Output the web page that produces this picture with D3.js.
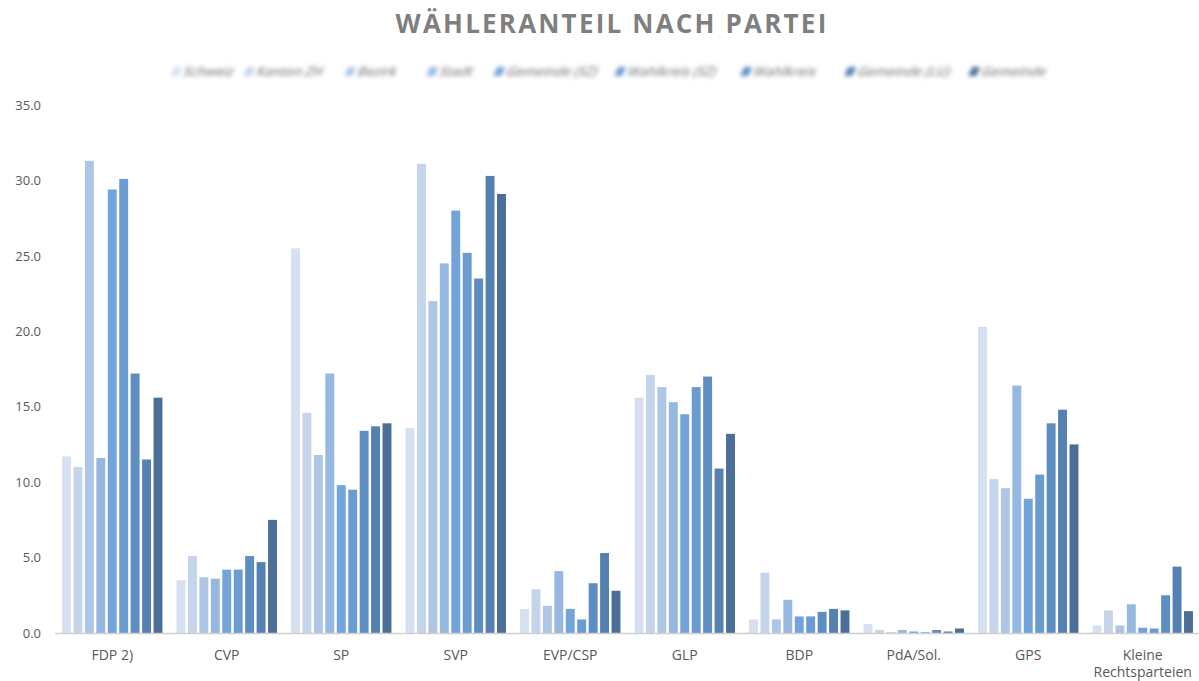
<!DOCTYPE html>
<html>
<head>
<meta charset="utf-8">
<script src="https://cdn.jsdelivr.net/npm/d3@7"></script>
<style>
  body { margin: 0; background: #fff; }
  svg { display: block; font-family: "Open Sans", sans-serif; }
</style>
</head>
<body>
<script>
const categories = ['FDP 2)', 'CVP', 'SP', 'SVP', 'EVP/CSP', 'GLP', 'BDP', 'PdA/Sol.', 'GPS', 'Kleine Rechtsparteien'];
const seriesNames = ['Schweiz', 'Kanton ZH', 'Bezirk', 'Stadt', 'Gemeinde (SZ)', 'Wahlkreis (SZ)', 'Wahlkreis', 'Gemeinde (LU)', 'Gemeinde'];
const seriesColors = ['#d6e0f0', '#c4d4eb', '#aec6e6', '#95b7e0', '#72a3da', '#6a9bd1', '#5e8dc2', '#5581b2', '#4b6f98'];

// one array per series, values in category order
const s1 = [11.7, 3.5, 25.5, 13.6, 1.6, 15.6, 0.9, 0.6, 20.3, 0.5];
const s2 = [11.0, 5.1, 14.6, 31.1, 2.9, 17.1, 4.0, 0.2, 10.2, 1.5];
const s3 = [31.3, 3.7, 11.8, 22.0, 1.8, 16.3, 0.9, 0.05, 9.6, 0.5];
const s4 = [11.6, 3.6, 17.2, 24.5, 4.1, 15.3, 2.2, 0.2, 16.4, 1.9];
const s5 = [29.4, 4.2, 9.8, 28.0, 1.6, 14.5, 1.1, 0.1, 8.9, 0.35];
const s6 = [30.1, 4.2, 9.5, 25.2, 0.9, 16.3, 1.1, 0.05, 10.5, 0.3];
const s7 = [17.2, 5.1, 13.4, 23.5, 3.3, 17.0, 1.4, 0.2, 13.9, 2.5];
const s8 = [11.5, 4.7, 13.7, 30.3, 5.3, 10.9, 1.6, 0.1, 14.8, 4.4];
const s9 = [15.6, 7.5, 13.9, 29.1, 2.8, 13.2, 1.5, 0.3, 12.5, 1.45];
const series = [s1, s2, s3, s4, s5, s6, s7, s8, s9];
const yTicks = [0, 5, 10, 15, 20, 25, 30, 35];

const w = 1199;
const h = 681;
const svg = d3.select('body').append('svg').attr('width', w).attr('height', h);

// blur for the legend, which is unreadable in the original
svg.append('defs').append('filter').attr('id', 'blur')
  .attr('x', '-10%').attr('y', '-80%').attr('width', '120%').attr('height', '260%')
  .append('feGaussianBlur').attr('stdDeviation', 2.1);

const x0 = d3.scaleBand().domain(categories).range([55, 1200]).paddingInner(0.123).paddingOuter(0.0615);
const x1 = d3.scaleBand().domain(d3.range(series.length)).range([0, x0.bandwidth()]).paddingInner(0.22);
const y = d3.scaleLinear().domain([0, 35]).range([633, 105]);

// title
svg.append('text')
  .attr('x', 612).attr('y', 33)
  .attr('text-anchor', 'middle')
  .attr('font-size', 26).attr('font-weight', 700)
  .attr('letter-spacing', 2.2)
  .attr('fill', '#7f7f7f')
  .text('WÄHLERANTEIL NACH PARTEI');

// legend
const legendX = [172, 245, 346, 428, 495, 616, 742, 846, 970];
const legend = svg.append('g').attr('filter', 'url(#blur)');
seriesNames.forEach((name, i) => {
  const g = legend.append('g').attr('transform', `translate(${legendX[i]},72) skewX(-25)`);
  g.append('rect').attr('x', 0).attr('y', -5).attr('width', 8).attr('height', 9).attr('fill', seriesColors[i]);
  g.append('text').attr('x', 12).attr('y', 4).attr('font-size', 13).attr('font-weight', 600)
    .attr('fill', '#8a8a8a').text(name);
});

// y axis labels
svg.append('g')
  .attr('transform', 'translate(41,0)')
  .call(d3.axisLeft(y).tickValues(yTicks).tickFormat(d3.format('.1f')).tickSize(0).tickPadding(0))
  .call((g) => g.select('.domain').remove())
  .selectAll('text')
  .attr('font-family', '"Open Sans", sans-serif')
  .attr('font-size', 13)
  .attr('fill', '#595959');

// bars
const groups = svg.append('g').selectAll('g')
  .data(categories)
  .enter()
  .append('g')
  .attr('transform', (d) => `translate(${x0(d)},0)`);

groups.selectAll('rect')
  .data((d, ci) => series.map((s, si) => ({ si: si, v: s[ci] })))
  .enter()
  .append('rect')
  .attr('x', (d) => x1(d.si))
  .attr('y', (d) => y(d.v))
  .attr('width', x1.bandwidth())
  .attr('height', (d) => y(0) - y(d.v))
  .attr('fill', (d) => seriesColors[d.si]);

// x axis line
svg.append('line')
  .attr('x1', 55).attr('x2', 1199)
  .attr('y1', y(0) + 0.5).attr('y2', y(0) + 0.5)
  .attr('stroke', '#d0d0d0').attr('stroke-width', 1.5);

// category labels
const labels = svg.append('g').selectAll('text')
  .data(categories)
  .enter()
  .append('text')
  .attr('x', (d) => x0(d) + x0.bandwidth() / 2)
  .attr('y', 660)
  .attr('text-anchor', 'middle')
  .attr('font-size', 14)
  .attr('fill', '#595959');

labels.each(function (d) {
  const t = d3.select(this);
  if (d.length > 12) {
    const parts = d.split(' ');
    t.append('tspan').attr('x', t.attr('x')).text(parts[0]);
    t.append('tspan').attr('x', t.attr('x')).attr('dy', 17).text(parts[1]);
  } else {
    t.text(d);
  }
});
</script>
</body>
</html>
